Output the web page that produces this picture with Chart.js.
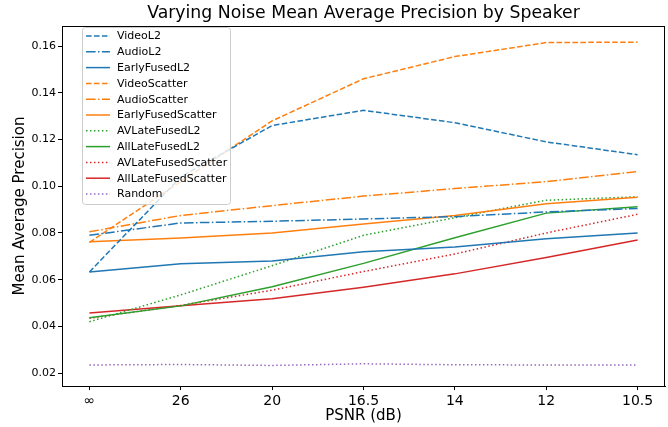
<!DOCTYPE html>
<html>
<head>
<meta charset="utf-8">
<script src="https://cdn.jsdelivr.net/npm/chart.js@4.4.0/dist/chart.umd.min.js"></script>
<style>
html,body{margin:0;padding:0;background:#fff;}
#c{display:block;}
</style>
</head>
<body>
<canvas id="c" width="668" height="427"></canvas>
<script>
const chartTitle = 'Varying Noise Mean Average Precision by Speaker';
const xLabels = ['\u221E', '26', '20', '16.5', '14', '12', '10.5'];
const yTicks = [0.02, 0.04, 0.06, 0.08, 0.10, 0.12, 0.14, 0.16];

const videoL2            = [0.0633, 0.1040, 0.1260, 0.1325, 0.1272, 0.1190, 0.1135];
const audioL2            = [0.0790, 0.0843, 0.0850, 0.0860, 0.0870, 0.0890, 0.0905];
const earlyFusedL2       = [0.0633, 0.0668, 0.0680, 0.0720, 0.0740, 0.0775, 0.0800];
const videoScatter       = [0.0760, 0.1020, 0.1280, 0.1460, 0.1555, 0.1615, 0.1617];
const audioScatter       = [0.0805, 0.0875, 0.0917, 0.0958, 0.0990, 0.1020, 0.1063];
const earlyFusedScatter  = [0.0762, 0.0778, 0.0800, 0.0838, 0.0875, 0.0925, 0.0953];
const avLateFusedL2      = [0.0420, 0.0535, 0.0660, 0.0790, 0.0865, 0.0940, 0.0955];
const allLateFusedL2     = [0.0437, 0.0488, 0.0570, 0.0670, 0.0780, 0.0885, 0.0912];
const avLateFusedScatter = [0.0435, 0.0490, 0.0555, 0.0635, 0.0710, 0.0800, 0.0880];
const allLateFusedScatter= [0.0458, 0.0488, 0.0518, 0.0568, 0.0625, 0.0695, 0.0770];
const randomMAP          = [0.0235, 0.0237, 0.0233, 0.0240, 0.0236, 0.0235, 0.0235];

const BLUE='#1f77b4', ORANGE='#ff7f0e', GREEN='#2ca02c', RED='#d62728', PURPLE='#9467bd';
const DASHED=[5.55,2.4], DASHDOT=[9.6,2.4,1.5,2.4], DOTTED=[1.5,2.475], SOLID=[];

function ds(label, values, color, dash){
  return {
    label: label,
    data: values.map((v,i)=>({x:i, y:v})),
    borderColor: color,
    backgroundColor: color,
    borderDash: dash,
    borderWidth: 1.5,
    pointRadius: 0,
    tension: 0,
    fill: false
  };
}

const datasets = [
  ds('VideoL2', videoL2, BLUE, DASHED),
  ds('AudioL2', audioL2, BLUE, DASHDOT),
  ds('EarlyFusedL2', earlyFusedL2, BLUE, SOLID),
  ds('VideoScatter', videoScatter, ORANGE, DASHED),
  ds('AudioScatter', audioScatter, ORANGE, DASHDOT),
  ds('EarlyFusedScatter', earlyFusedScatter, ORANGE, SOLID),
  ds('AVLateFusedL2', avLateFusedL2, GREEN, DOTTED),
  ds('AllLateFusedL2', allLateFusedL2, GREEN, SOLID),
  ds('AVLateFusedScatter', avLateFusedScatter, RED, DOTTED),
  ds('AllLateFusedScatter', allLateFusedScatter, RED, SOLID),
  ds('Random', randomMAP, PURPLE, DOTTED)
];

const FONT = "'DejaVu Sans', sans-serif";

const framePlugin = {
  id: 'frameAndLegend',
  afterDraw(chart){
    const ctx = chart.ctx, a = chart.chartArea;
    ctx.save();
    // title centred over the plot area
    ctx.fillStyle = '#000';
    ctx.font = '17.3px ' + FONT;
    ctx.textAlign = 'center';
    ctx.textBaseline = 'middle';
    ctx.fillText(chartTitle, (a.left + a.right) / 2, 13.5);
    // frame
    ctx.strokeStyle = '#000';
    ctx.lineWidth = 1;
    ctx.setLineDash([]);
    ctx.strokeRect(Math.round(a.left)+0.5, Math.round(a.top)+0.5, Math.round(a.right-a.left)-1, Math.round(a.bottom-a.top));
    // legend box
    const bx = 82.5, by = 27.5, bw = 148, bh = 177, r = 3;
    ctx.beginPath();
    ctx.moveTo(bx+r, by);
    ctx.lineTo(bx+bw-r, by); ctx.quadraticCurveTo(bx+bw, by, bx+bw, by+r);
    ctx.lineTo(bx+bw, by+bh-r); ctx.quadraticCurveTo(bx+bw, by+bh, bx+bw-r, by+bh);
    ctx.lineTo(bx+r, by+bh); ctx.quadraticCurveTo(bx, by+bh, bx, by+bh-r);
    ctx.lineTo(bx, by+r); ctx.quadraticCurveTo(bx, by, bx+r, by);
    ctx.closePath();
    ctx.fillStyle = 'rgba(255,255,255,0.8)';
    ctx.fill();
    ctx.strokeStyle = '#cccccc';
    ctx.stroke();
    ctx.font = '11px ' + FONT;
    ctx.textBaseline = 'middle';
    ctx.textAlign = 'left';
    chart.data.datasets.forEach((d,i)=>{
      const y = 36 + i*15.8;
      ctx.beginPath();
      ctx.setLineDash(d.borderDash);
      ctx.strokeStyle = d.borderColor;
      ctx.lineWidth = 1.5;
      ctx.moveTo(86, y); ctx.lineTo(110, y);
      ctx.stroke();
      ctx.setLineDash([]);
      ctx.fillStyle = '#000';
      ctx.fillText(d.label, 117, y+0.5);
    });
    ctx.restore();
  }
};

new Chart(document.getElementById('c'), {
  type: 'line',
  data: { datasets: datasets },
  options: {
    responsive: false,
    animation: false,
    devicePixelRatio: 1,
    layout: { padding: { left: 0, right: 3, top: 26, bottom: 0 } },
    plugins: {
      legend: { display: false },
      tooltip: { enabled: false },
      title: { display: false }
    },
    scales: {
      x: {
        type: 'linear',
        min: -0.3,
        max: 6.3,
        afterBuildTicks: s => { s.ticks = xLabels.map((_, i) => ({ value: i })); },
        afterFit: s => { s.height = 41; },
        ticks: {
          callback: v => xLabels[v],
          color: '#000',
          font: { family: FONT, size: 14 },
          maxRotation: 0,
          autoSkip: false,
          padding: 3
        },
        grid: { display: true, drawOnChartArea: false, drawTicks: true, tickLength: 4, color: '#000' },
        border: { display: true, color: '#000' },
        title: {
          display: true,
          text: 'PSNR (dB)',
          color: '#000',
          font: { family: FONT, size: 15 },
          padding: { top: 0, bottom: 2 }
        }
      },
      y: {
        type: 'linear',
        min: 0.0145,
        max: 0.1686,
        afterBuildTicks: s => { s.ticks = yTicks.map(v => ({ value: v })); },
        afterFit: s => { s.width = 62; },
        ticks: {
          callback: v => Number(v).toFixed(2),
          color: '#000',
          font: { family: FONT, size: 11 },
          padding: 2
        },
        grid: { display: true, drawOnChartArea: false, drawTicks: true, tickLength: 4, color: '#000' },
        border: { display: true, color: '#000' },
        title: {
          display: true,
          text: 'Mean Average Precision',
          color: '#000',
          font: { family: FONT, size: 15 },
          padding: { top: 11, bottom: 0 }
        }
      }
    }
  },
  plugins: [framePlugin]
});
</script>
</body>
</html>
